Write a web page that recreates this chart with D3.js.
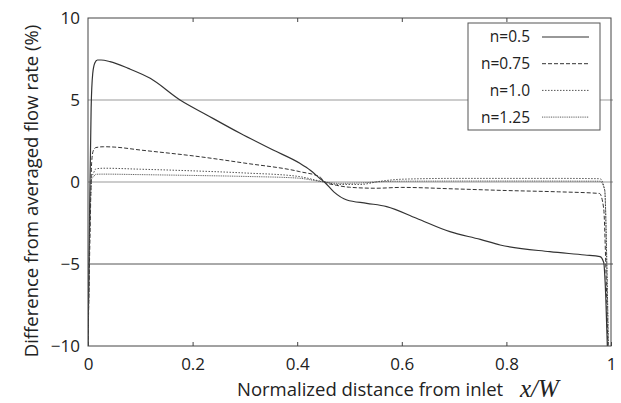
<!DOCTYPE html>
<html>
<head>
<meta charset="utf-8">
<script src="https://cdn.jsdelivr.net/npm/d3@7"></script>
<style>
  body { margin: 0; background: #fff; }
  text { font-family: "Open Sans", sans-serif; fill: #222; }
</style>
</head>
<body>
<div id="chart"></div>
<script>
// data: [x/W, difference %]
var n050 = [[0,-10],[0.003,-2],[0.006,4.5],[0.009,6.6],[0.013,7.25],[0.018,7.44],[0.025,7.44],[0.042,7.34],[0.077,6.93],[0.119,6.32],[0.176,5.0],[0.227,4.09],[0.291,2.97],[0.354,1.95],[0.405,1.14],[0.425,0.72],[0.444,0.2],[0.452,0],[0.47,-0.6],[0.495,-1.1],[0.533,-1.3],[0.571,-1.5],[0.628,-2.21],[0.692,-3.03],[0.75,-3.5],[0.788,-3.84],[0.883,-4.25],[0.95,-4.45],[0.979,-4.55],[0.986,-4.9],[0.99,-7],[0.993,-10]];
var n075 = [[0,-10],[0.004,-3],[0.007,1.2],[0.01,1.9],[0.015,2.1],[0.03,2.15],[0.05,2.13],[0.1,1.95],[0.214,1.54],[0.3,1.15],[0.405,0.63],[0.444,0.3],[0.452,0],[0.475,-0.2],[0.5,-0.32],[0.55,-0.38],[0.6,-0.33],[0.7,-0.42],[0.8,-0.52],[0.9,-0.6],[0.978,-0.7],[0.986,-1.6],[0.99,-5],[0.994,-10]];
var n100 = [[0,-10],[0.004,-2],[0.007,0.3],[0.01,0.5],[0.015,0.8],[0.03,0.84],[0.1,0.78],[0.2,0.68],[0.3,0.55],[0.4,0.35],[0.452,0],[0.48,-0.15],[0.52,-0.15],[0.56,0.05],[0.6,0.17],[0.7,0.22],[0.8,0.22],[0.9,0.22],[0.979,0.2],[0.988,-0.5],[0.992,-5],[0.995,-10]];
var n125 = [[0,-10],[0.004,-2],[0.007,0.2],[0.01,0.3],[0.015,0.47],[0.03,0.48],[0.1,0.45],[0.2,0.4],[0.3,0.34],[0.4,0.24],[0.452,0],[0.48,-0.08],[0.52,-0.06],[0.56,0.02],[0.6,0.05],[0.8,0.06],[0.979,0.05],[0.988,-0.5],[0.992,-5],[0.995,-10]];

var seriesNames = ["n=0.5", "n=0.75", "n=1.0", "n=1.25"];
var seriesData = [n050, n075, n100, n125];
var dashes = [null, "4,2", "1.5,1.5", "1,0.8"];
var strokes = ["#333", "#333", "#555", "#333"];
var widths = [1.2, 1, 1, 0.8];

var xTicks = [0, 0.2, 0.4, 0.6, 0.8, 1];
var yTicks = [-10, -5, 0, 5, 10];
var gridVals = [5, 0, -5];

(function() {
  var width = 621, height = 403;
  var mLeft = 88, mRight = 611, mTop = 18, mBottom = 346;

  var svg = d3.select("#chart").append("svg")
      .attr("width", width)
      .attr("height", height);

  var x = d3.scaleLinear().domain([0, 1]).range([mLeft, mRight]);
  var y = d3.scaleLinear().domain([-10, 10]).range([mBottom, mTop]);

  svg.append("clipPath").attr("id", "clip")
    .append("rect")
      .attr("x", mLeft).attr("y", mTop)
      .attr("width", mRight - mLeft).attr("height", mBottom - mTop);

  // horizontal grid lines
  svg.selectAll(".grid")
    .data(gridVals)
    .enter().append("line")
      .attr("x1", mLeft).attr("x2", mRight + 2)
      .attr("y1", function(d) { return y(d); })
      .attr("y2", function(d) { return y(d); })
      .style("stroke", function(d) { return d == -5 ? "#555" : "#999"; })
      .style("stroke-width", 1);

  // curves
  var line = d3.line()
      .x(function(d) { return x(d[0]); })
      .y(function(d) { return y(d[1]); })
      .curve(d3.curveMonotoneX);

  svg.append("g").attr("clip-path", "url(#clip)")
    .selectAll("path")
    .data(seriesData)
    .enter().append("path")
      .attr("d", line)
      .style("fill", "none")
      .style("stroke", function(d, i) { return strokes[i]; })
      .style("stroke-width", function(d, i) { return widths[i]; })
      .style("stroke-dasharray", function(d, i) { return dashes[i]; });

  // frame
  svg.append("rect")
      .attr("x", mLeft).attr("y", mTop)
      .attr("width", mRight - mLeft).attr("height", mBottom - mTop)
      .style("fill", "none")
      .style("stroke", "#444")
      .style("stroke-width", 1);

  // axes: ticks point inward
  svg.append("g")
      .attr("transform", "translate(0," + mBottom + ")")
      .call(d3.axisBottom(x).tickValues(xTicks).tickSize(-4).tickPadding(8)
        .tickFormat(function(d) { return d; }))
      .call(function(g) {
        g.select(".domain").remove();
        g.selectAll(".tick line").style("stroke", "#444");
        g.selectAll(".tick text").style("font-size", "17px").attr("y", 9).attr("dy", "0.9em")
          .style("font-family", "'Open Sans', sans-serif").style("fill", "#222");
      });

  svg.append("g")
      .attr("transform", "translate(0," + mTop + ")")
      .call(d3.axisTop(x).tickValues(xTicks.slice(1, 5)).tickSize(-4).tickFormat(""))
      .call(function(g) {
        g.select(".domain").remove();
        g.selectAll(".tick line").style("stroke", "#444");
      });

  svg.append("g")
      .attr("transform", "translate(" + mLeft + ",0)")
      .call(d3.axisLeft(y).tickValues(yTicks).tickSize(0).tickPadding(8))
      .call(function(g) {
        g.select(".domain").remove();
        g.selectAll(".tick text").style("font-size", "17px")
          .style("font-family", "'Open Sans', sans-serif").style("fill", "#222");
      });

  // axis titles
  svg.append("text")
      .attr("transform", "translate(38,191) rotate(-90)")
      .attr("text-anchor", "middle")
      .style("font-size", "18.5px")
      .text("Difference from averaged flow rate (%)");

  svg.append("text")
      .attr("x", 237).attr("y", 396)
      .style("font-size", "18.5px")
      .text("Normalized distance from inlet");

  svg.append("text")
      .attr("x", 520).attr("y", 397)
      .style("font-family", "'Liberation Serif', serif")
      .style("font-style", "italic")
      .style("font-size", "25px")
      .text("x/W");

  // legend
  var legend = svg.append("g");
  legend.append("rect")
      .attr("x", 468).attr("y", 23)
      .attr("width", 132).attr("height", 107)
      .style("fill", "#fff")
      .style("stroke", "#555")
      .style("stroke-width", 1);

  var rows = legend.selectAll(".row")
    .data(seriesNames)
    .enter().append("g")
      .attr("transform", function(d, i) { return "translate(0," + (37 + i * 26.7) + ")"; });

  rows.append("text")
      .attr("x", 530).attr("dy", "0.35em")
      .attr("text-anchor", "end")
      .style("font-size", "15.5px")
      .text(function(d) { return d; });

  rows.append("line")
      .attr("x1", 542).attr("x2", 589)
      .style("stroke", function(d, i) { return strokes[i]; })
      .style("stroke-width", function(d, i) { return widths[i]; })
      .style("stroke-dasharray", function(d, i) { return dashes[i]; });
})();
</script>
</body>
</html>
